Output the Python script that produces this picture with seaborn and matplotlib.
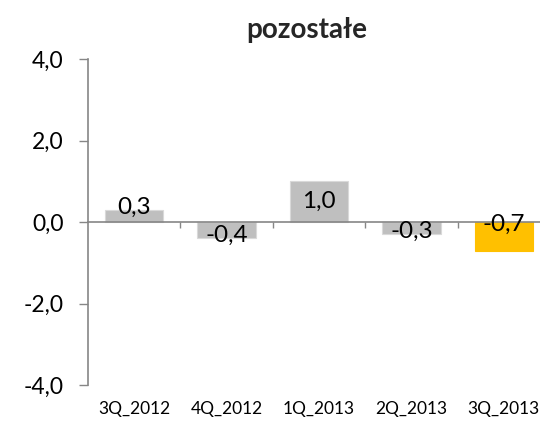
import matplotlib
matplotlib.use("Agg")
import matplotlib.pyplot as plt
import seaborn as sns
import pandas as pd
from matplotlib.ticker import FixedLocator, FuncFormatter
import matplotlib.transforms as mtransforms

categories = ["3Q_2012", "4Q_2012", "1Q_2013", "2Q_2013", "3Q_2013"]
values = [0.3, -0.4, 1.0, -0.3, -0.7]
bar_colors = ["#BFBFBF", "#BFBFBF", "#BFBFBF", "#BFBFBF", "#FFC000"]
title = "pozostałe"
yticks = [-4.0, -2.0, 0.0, 2.0, 4.0]

sns.set_theme(style="white")
plt.rcParams["font.family"] = ["Lato", "DejaVu Sans"]

df = pd.DataFrame({"cat": categories, "val": values})

fig = plt.figure(figsize=(5.40, 4.21), dpi=100)
ax = fig.add_axes([88/540, (421-385)/421, 462/540, 326/421])

sns.barplot(data=df, x="cat", y="val", hue="cat", palette=bar_colors,
            legend=False, width=0.63, ax=ax, saturation=1,
            edgecolor="#D0D0D0", linewidth=0.8)
for p, c in zip(ax.patches, bar_colors):
    p.set_facecolor(c)
    p.set_edgecolor("#D9D9D9" if c != "#FFC000" else c)

ax.set_xlim(-0.5, len(categories) - 0.5)
ax.set_ylim(-4, 4)
ax.set_xlabel("")
ax.set_ylabel("")

# y axis
ax.yaxis.set_major_locator(FixedLocator(yticks))
ax.yaxis.set_major_formatter(FuncFormatter(lambda v, _: f"{v:.1f}".replace(".", ",")))
ax.tick_params(axis="y", direction="out", length=6.5, width=1, color="#868686",
               pad=11, labelsize=16.5, labelcolor="black", left=True)
for s in ["top", "right"]:
    ax.spines[s].set_visible(False)
ax.spines["left"].set_color("#868686")
ax.spines["left"].set_linewidth(1.2)

# x axis at zero with ticks between categories
ax.spines["bottom"].set_position(("data", 0))
ax.spines["bottom"].set_color("#868686")
ax.spines["bottom"].set_linewidth(1.2)
ax.xaxis.set_major_locator(FixedLocator([i + 0.5 for i in range(len(categories))]))
ax.set_xticklabels([])
ax.tick_params(axis="x", direction="out", length=4.5, width=1, color="#868686", bottom=True)

trans = mtransforms.blended_transform_factory(ax.transData, ax.transAxes)
for i, c in enumerate(categories):
    ax.text(i, -0.075, c, transform=trans, ha="center", va="center", fontsize=12.5, color="black")

# data labels
for i, v in enumerate(values):
    if abs(v) < 0.5:
        y = v + 0.07
    elif v > 0:
        y = v / 2
    else:
        y = -0.05
    ax.text(i, y, f"{v:.1f}".replace(".", ","), ha="center", va="center",
            fontsize=17.5, color="black")

fig.text(0.568, 0.928, title, ha="center", va="center", fontsize=20, fontweight="bold")

fig.savefig("out.png", dpi=100)
